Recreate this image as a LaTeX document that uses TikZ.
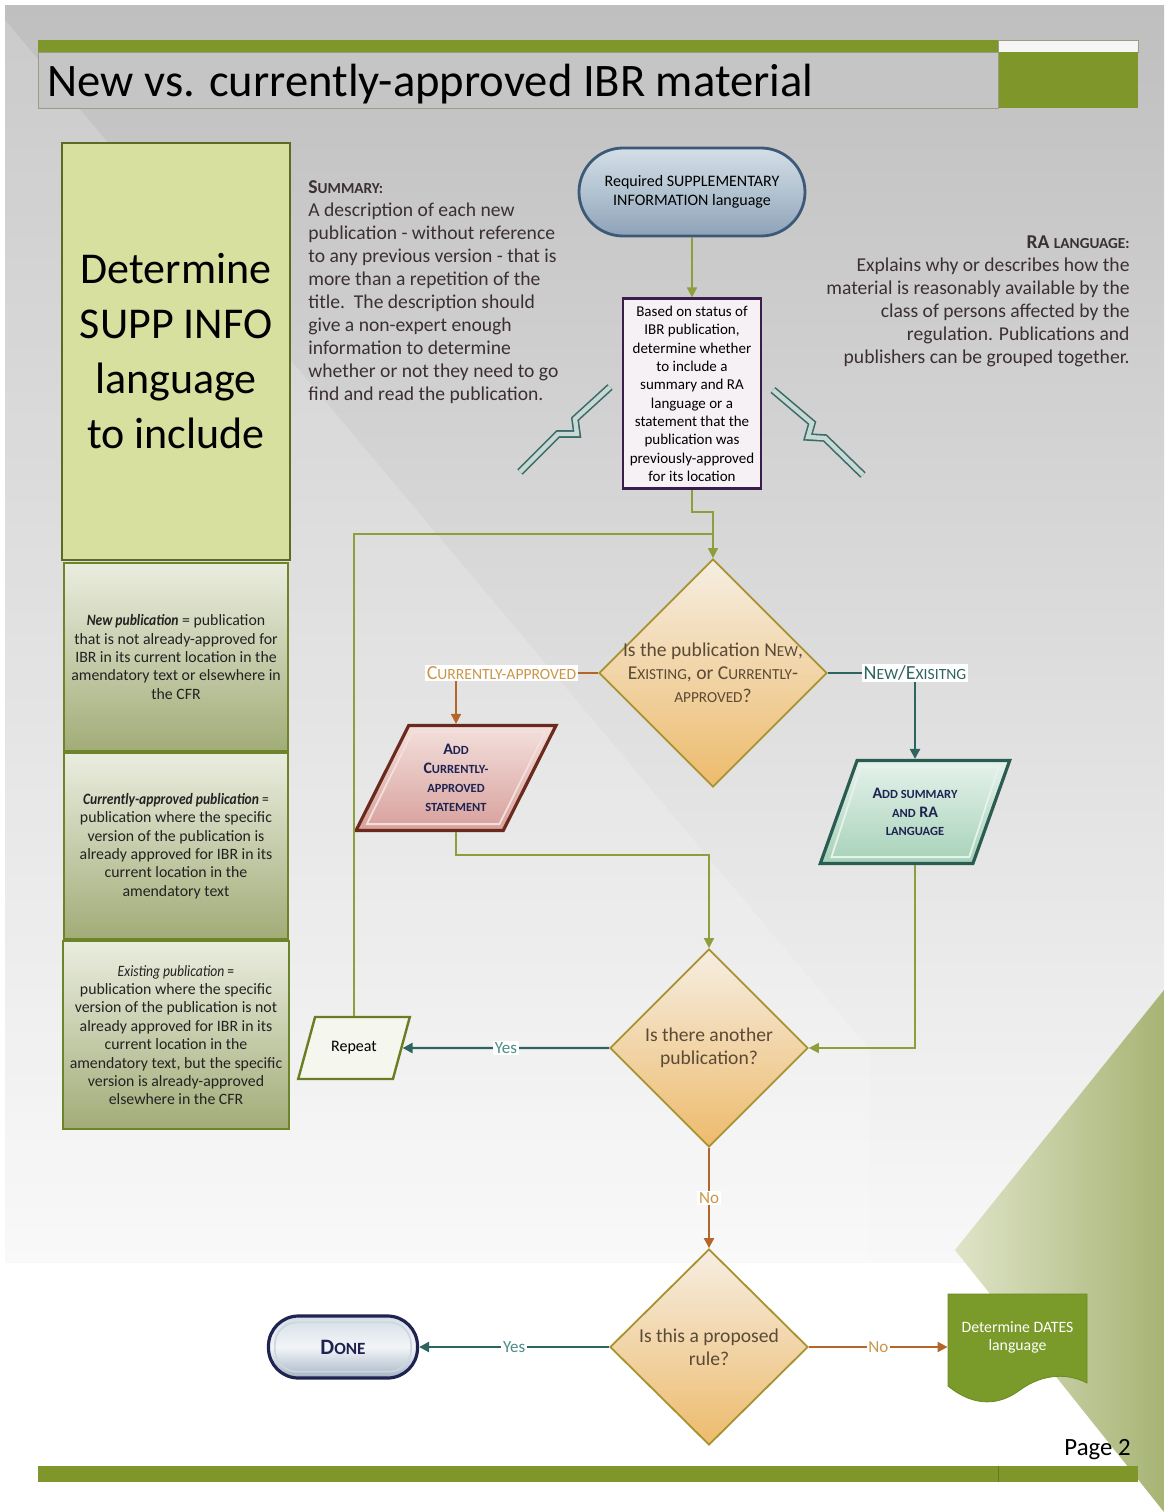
\documentclass[tikz,border=0pt]{standalone}
\usepackage{fontspec}
\setmainfont{Carlito}
\usepackage{graphicx}
\usetikzlibrary{shapes.geometric}
\usetikzlibrary{arrows.meta}
\usetikzlibrary{positioning}

\definecolor{barGreen}{HTML}{7F972A}
\definecolor{titleEdge}{HTML}{9C9C80}
\definecolor{titleFill}{HTML}{C5C5C5}
\definecolor{bgTop}{HTML}{BFBFBF}
\definecolor{bgBot}{HTML}{F8F8F8}
\definecolor{triLeft}{HTML}{DFE4C8}
\definecolor{triRight}{HTML}{A7B474}
\definecolor{leftFill}{HTML}{D7E09E}
\definecolor{leftEdge}{HTML}{5A6B22}
\definecolor{defTop}{HTML}{EAEDDF}
\definecolor{defBot}{HTML}{A2AC78}
\definecolor{defEdge}{HTML}{6E8428}
\definecolor{inkDark}{HTML}{222222}
\definecolor{inkBody}{HTML}{3B2F35}
\definecolor{pillTop}{HTML}{D4DEE6}
\definecolor{pillMid}{HTML}{B2C3D1}
\definecolor{pillBot}{HTML}{8EA2B8}
\definecolor{pillEdge}{HTML}{3C5A78}
\definecolor{statusFill}{HTML}{F6F1F5}
\definecolor{statusEdge}{HTML}{3A1D4C}
\definecolor{decTop}{HTML}{F6EEE2}
\definecolor{decBot}{HTML}{EDBB6C}
\definecolor{decEdge}{HTML}{A8922F}
\definecolor{decInk}{HTML}{5A4A36}
\definecolor{pinkTop}{HTML}{F3E0DC}
\definecolor{pinkBot}{HTML}{D8A09C}
\definecolor{pinkEdge}{HTML}{6B2A1E}
\definecolor{mintTop}{HTML}{E6F2EC}
\definecolor{mintBot}{HTML}{A6D2B8}
\definecolor{mintEdge}{HTML}{2B5C52}
\definecolor{navyInk}{HTML}{1E2352}
\definecolor{wireBrown}{HTML}{B5652A}
\definecolor{wireTeal}{HTML}{2E6460}
\definecolor{wireOlive}{HTML}{8D9E3C}
\definecolor{lblTan}{HTML}{C9974A}
\definecolor{lblTeal}{HTML}{4B8C8A}
\definecolor{repeatFill}{HTML}{F5F6EE}
\definecolor{repeatEdge}{HTML}{6A7D22}
\definecolor{boltEdge}{HTML}{3B6B66}
\definecolor{boltFill}{HTML}{C8D8D4}
\definecolor{datesFill}{HTML}{7A9A2A}
\definecolor{datesEdge}{HTML}{6A8A22}

\newcommand{\fsc}[1]{\scalebox{0.78}{\MakeUppercase{#1}}}
\newcommand{\tight}[1]{\scalebox{0.86}[1]{#1}}

\begin{document}
\begin{tikzpicture}[x=0.5pt, y=-0.5pt,
  >={Triangle[length=5pt, width=5pt]},
  defbox/.style={draw=defEdge, line width=1.2pt, top color=defTop, bottom color=defBot,
    minimum width=112pt, minimum height=94pt, align=center, text=inkDark,
    font=\fontsize{7.9}{9.2}\selectfont},
  bodytext/.style={text=inkBody, font=\fontsize{9.8}{11.5}\selectfont, inner sep=1pt},
  decision/.style={diamond, aspect=1, draw=decEdge, line width=0.9pt, top color=decTop,
    bottom color=decBot, inner sep=-14pt, align=center, text=decInk,
    font=\fontsize{9.8}{11.5}\selectfont},
  slantbox/.style={trapezium, trapezium left angle=61.5, trapezium right angle=118.5,
    trapezium stretches=true, line width=1.6pt, align=center, inner sep=1pt, text=navyInk,
    font=\bfseries\fontsize{8}{9.4}\selectfont},
  olivewire/.style={draw=wireOlive, line width=0.8pt},
  brownwire/.style={draw=wireBrown, line width=1pt},
  tealwire/.style={draw=wireTeal, line width=1.2pt},
  lbl/.style={fill=white, inner sep=0.8pt, font=\fontsize{8.5}{9}\selectfont},
  caplbl/.style={lbl, font=\fontsize{10}{11}\selectfont},
  bolt/.style={draw=boltEdge, line width=0.8pt, double=boltFill, double distance=2.2pt}
]

  % Page background
  \useasboundingbox (0,0) rectangle (1164,1512);
  \fill[white] (0,0) rectangle (1164,1512);
  \fill[top color=bgTop, bottom color=bgBot] (5,5) rectangle (1164,1262);
  \fill[white, opacity=0.18] (5,20) -- (870,1050) -- (870,1262) -- (5,1262) -- cycle;
  \shade[left color=triLeft, right color=triRight] (1164,990) -- (955,1250) -- (1164,1512) -- cycle;

  % Title bar
  \fill[barGreen] (38,40) rectangle (998,52);
  \draw[titleEdge, fill=white!85!bgTop] (998,40) rectangle (1138,52);
  \fill[barGreen] (998,52) rectangle (1138,108);
  \draw[titleEdge, fill=titleFill] (38,52) rectangle (998,108);
  \node[anchor=base west, font=\fontsize{23.3}{24}\selectfont, inner sep=0pt] (title) at (47,96)
    {New vs. currently-approved IBR material};

  % Left column
  \node[draw=leftEdge, line width=1.2pt, fill=leftFill, minimum width=114pt, minimum height=208.5pt,
    align=center, font=\fontsize{22}{27.5}\selectfont] (supp) at (176,351.5)
    {Determine\\SUPP INFO\\language\\to include};
  \node[defbox] (defNew) at (176,657)
    {\tight{\textbf{\textit{New publication}}} = publication\\that is not already-approved for\\IBR in its current location in the\\amendatory text or elsewhere in\\the CFR};
  \node[defbox, minimum height=93pt] (defCurrent) at (176,846)
    {\tight{\textbf{\textit{Currently-approved publication}} =}\\publication where the specific\\version of the publication is\\already approved for IBR in its\\current location in the\\amendatory text};
  \node[defbox] (defExisting) at (176,1035)
    {\tight{\textit{Existing publication} =}\\publication where the specific\\version of the publication is not\\already approved for IBR in its\\current location in the\\amendatory text, but the specific\\version is already-approved\\elsewhere in the CFR};

  % Explanations
  \node[bodytext, align=left, anchor=north west] (summary) at (306,178)
    {\textbf{S\fsc{ummary:}}\\A description of each new\\publication - without reference\\to any previous version - that is\\more than a repetition of the\\title.\ \ The description should\\give a non-expert enough\\information to determine\\whether or not they need to go\\find and read the publication.};
  \node[bodytext, align=right, anchor=north east] (ralang) at (1132,233)
    {\textbf{RA \fsc{language:}}\\Explains why or describes how the\\material is reasonably available by the\\class of persons affected by the\\regulation. Publications and\\publishers can be grouped together.};

  % Start and status box
  \node[draw=pillEdge, line width=1.4pt, rounded corners=22pt, minimum width=113pt, minimum height=44pt,
    top color=pillTop, bottom color=pillBot, middle color=pillMid, align=center,
    font=\fontsize{8}{9.3}\selectfont] (start) at (692,192)
    {Required SUPPLEMENTARY\\INFORMATION language};
  \node[draw=statusEdge, line width=1.4pt, fill=statusFill, minimum width=69pt, minimum height=95pt,
    inner sep=1.5pt, align=center, font=\fontsize{7.5}{9.15}\selectfont, below=30pt of start] (status)
    {Based on status of\\IBR publication,\\determine whether\\to include a\\summary and RA\\language or a\\statement that the\\publication was\\previously-approved\\for its location};

  % Lightning callouts
  \draw[bolt] (610,387) -- (575,419) -- (577,434) -- (558,434) -- (520,472);
  \draw[bolt] (773,390) -- (812,423) -- (808,437) -- (825,438) -- (863,475);

  % Decisions
  \node[decision, minimum width=114pt, minimum height=114pt] (kind) at (713,673)
    {Is the publication N\fsc{ew},\\E\fsc{xisting}, or C\fsc{urrently}-\\\fsc{approved}?};
  \node[decision, minimum width=99pt, minimum height=99pt] (another) at (709,1048)
    {Is there another\\publication?};
  \node[decision, minimum width=99pt, minimum height=98pt] (proposed) at (709,1347)
    {Is this a proposed\\rule?};

  % Actions
  \node[slantbox, draw=pinkEdge, top color=pinkTop, bottom color=pinkBot,
    minimum width=100pt, minimum height=52.5pt] (addCA) at (456,778)
    {A\fsc{dd}\\C\fsc{urrently-}\\\fsc{approved}\\\fsc{statement}};
  \node[slantbox, draw=mintEdge, top color=mintTop, bottom color=mintBot,
    minimum width=95pt, minimum height=51.5pt] (addSum) at (915,812)
    {A\fsc{dd summary}\\\fsc{and} RA\\\fsc{language}};
  \foreach \p/\c in {addCA/pinkTop, addSum/mintTop}
    \draw[\c, line width=0.9pt] ([shift={(6.7pt,4pt)}]\p.bottom left corner) -- ([shift={(2.4pt,-4pt)}]\p.top left corner)
      -- ([shift={(-6.7pt,-4pt)}]\p.top right corner) -- ([shift={(-2.4pt,4pt)}]\p.bottom right corner) -- cycle;
  \node[trapezium, trapezium left angle=64, trapezium right angle=116, trapezium stretches=true,
    draw=repeatEdge, line width=1.2pt, fill=repeatFill, minimum width=56pt, minimum height=31pt,
    font=\fontsize{8}{9}\selectfont] (repeat) at (354,1048) {Repeat};

  % End points
  \node[draw=navyInk, line width=1.6pt, rounded corners=15pt, minimum width=74.5pt, minimum height=31pt,
    top color=pillTop, bottom color=pillBot!80, middle color=white!70!pillTop, text=navyInk,
    font=\bfseries\fontsize{11}{12}\selectfont] (done) at (343,1347) {D\fsc{one}};
  \draw[white!75!pillEdge, line width=0.8pt, rounded corners=11pt]
    ([shift={(4pt,4pt)}]done.south west) rectangle ([shift={(-4pt,-4pt)}]done.north east);
  \fill[datesFill, draw=datesEdge] (948,1294) -- (1087,1294) -- (1087,1383)
    .. controls (1070,1374) and (1045,1372) .. (1020,1390)
    .. controls (1000,1405) and (975,1408) .. (948,1386) -- cycle;
  \node[minimum width=69.5pt, minimum height=53pt, text depth=11pt, align=center, text=white,
    font=\fontsize{7.9}{9.4}\selectfont] (dates) at (1017.5,1347) {Determine DATES\\language};

  % Connectors
  \coordinate (jog) at (713,512);
  \coordinate (loopEnd) at (713,534);
  \coordinate (caTurn) at (709,855);
  \path[draw, olivewire, ->] (start) to (status);
  \path[draw, olivewire, ->] (status.south) |- (jog) -- (kind.north);
  \path[draw, olivewire] (repeat.north) |- (loopEnd);
  \path[draw, brownwire, ->] (kind.west) -| (addCA.north)
    node[pos=0.34, caplbl, text=lblTan] {C\fsc{urrently-approved}};
  \path[draw, tealwire, ->] (kind.east) -| (addSum.north)
    node[pos=0.5, caplbl, text=wireTeal] {N\fsc{ew}/E\fsc{xisitng}};
  \path[draw, olivewire, ->] (addCA.south) |- (caTurn) -- (another.north);
  \path[draw, olivewire, ->] (addSum.south) |- (another.east);
  \path[draw, tealwire, ->] (another.west) -- (repeat.east) node[midway, lbl, text=lblTeal] {Yes};
  \path[draw, brownwire, ->] (another.south) -- (proposed.north) node[midway, lbl, text=lblTan] {No};
  \path[draw, tealwire, ->] (proposed.west) -- (done.east) node[midway, lbl, text=lblTeal] {Yes};
  \path[draw, brownwire, ->] (proposed.east) -- (dates.west) node[midway, lbl, text=lblTan] {No};

  % Footer
  \fill[barGreen] (38,1466) rectangle (1138,1482);
  \draw[barGreen!80!black, line width=0.4pt] (998,1466) -- (998,1482);
  \node[anchor=base east, font=\fontsize{12.4}{13}\selectfont, inner sep=0pt] (page) at (1131,1455) {Page 2};

\end{tikzpicture}
\end{document}
